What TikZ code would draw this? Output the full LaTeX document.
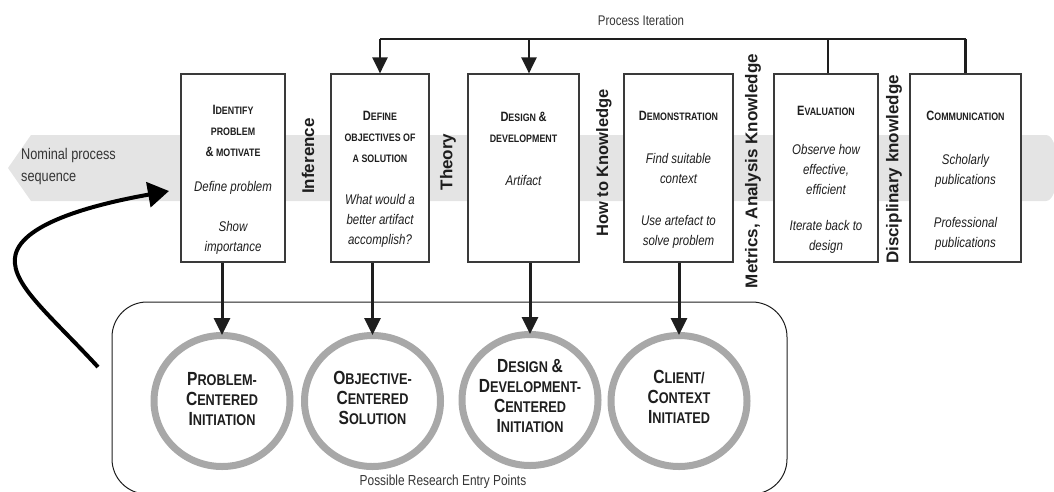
\documentclass[tikz,border=0pt]{standalone}
\usepackage{fontspec}
\setmainfont{Liberation Sans}
\newfontfamily\narrow[FakeStretch=0.82]{Liberation Sans}
\usetikzlibrary{arrows.meta,shapes.geometric}
\definecolor{bandgray}{HTML}{E4E4E4}
\definecolor{ringgray}{HTML}{A8A8A8}
\definecolor{edge}{HTML}{3A3A3A}
\definecolor{ink}{HTML}{1E1E1E}
\newcommand\tsc[2]{{\fontsize{13.5}{21}\selectfont #1}{\fontsize{10.8}{21}\selectfont #2}}
\newcommand\tsm[1]{{\fontsize{10.8}{21}\selectfont #1}}
\newcommand\ringsc[2]{{\fontsize{19}{20}\selectfont #1}{\fontsize{15.5}{20}\selectfont #2}}
\tikzset{
  stagebox/.style={draw=edge, line width=1.2pt, fill=white, minimum height=188pt, inner sep=0pt},
  titletext/.style={font=\narrow\bfseries\fontsize{10.8}{21}\selectfont, align=center, text=ink, inner sep=0pt},
  bodytext/.style={font=\narrow\itshape\fontsize{14}{20}\selectfont, align=center, text=ink, inner sep=0pt},
  sidelabel/.style={font=\bfseries\fontsize{17}{20}\selectfont, rotate=90, text=ink, inner sep=0pt},
  ring/.style={ellipse, draw=ringgray, line width=7pt, fill=white, minimum width=136pt, minimum height=131pt, inner sep=0pt},
  ringtext/.style={font=\narrow\bfseries\fontsize{15.5}{20}\selectfont, align=center, text=ink, inner sep=0pt},
  plaintext/.style={font=\narrow\fontsize{14}{17}\selectfont, text=ink!90, inner sep=0pt},
  iterline/.style={draw=ink, line width=2.2pt},
  iterarrow/.style={iterline, -{Triangle[length=16pt,width=15pt]}},
  entryarrow/.style={draw=ink, line width=3pt, -{Triangle[length=17pt,width=16pt]}},
}
\begin{document}
\begin{tikzpicture}[x=1pt,y=-1pt]
\useasboundingbox (0,0) rectangle (1054,491);
% nominal process band
\fill[bandgray] (8,168) -- (31,135) -- (1046,135) to[out=0,in=0,looseness=0.6] (1046,201) -- (31,201) -- cycle;
\node[plaintext, font=\narrow\fontsize{15.5}{22}\selectfont, align=left, anchor=west] (nom) at (21,166) {Nominal process\\sequence};

% stage boxes
\node[stagebox, minimum width=104pt] (b1) at (233,168) {};
\node[stagebox, minimum width=98pt]  (b2) at (380,168) {};
\node[stagebox, minimum width=111pt] (b3) at (523.5,168) {};
\node[stagebox, minimum width=109pt] (b4) at (678.5,168) {};
\node[stagebox, minimum width=104pt] (b5) at (826,168) {};
\node[stagebox, minimum width=111pt] (b6) at (965.5,168) {};

% box texts
\node[titletext] (b1t) at (233,131) {\tsc{I}{DENTIFY}\\\tsm{PROBLEM}\\\tsc{\&}{ MOTIVATE}};
\node[bodytext] (b1a) at (233,188) {Define problem};
\node[bodytext] (b1b) at (233,238) {Show\\importance};

\node[titletext] (b2t) at (380,137) {\tsc{D}{EFINE}\\\tsm{OBJECTIVES OF}\\\tsm{A SOLUTION}};
\node[bodytext] (b2a) at (380,221) {What would a\\better artifact\\accomplish?};

\node[titletext] (b3t) at (523.5,127) {\tsc{D}{ESIGN} \tsc{\&}{}\\\tsm{DEVELOPMENT}};
\node[bodytext] (b3a) at (523.5,180) {Artifact};

\node[titletext] (b4t) at (678.5,115.5) {\tsc{D}{EMONSTRATION}};
\node[bodytext] (b4a) at (678.5,168) {Find suitable\\context};
\node[bodytext] (b4b) at (678.5,232) {Use artefact to\\solve problem};

\node[titletext] (b5t) at (826,111) {\tsc{E}{VALUATION}};
\node[bodytext] (b5a) at (826,169) {Observe how\\effective,\\efficient};
\node[bodytext] (b5b) at (826,237) {Iterate back to\\design};

\node[titletext] (b6t) at (965.5,116) {\tsc{C}{OMMUNICATION}};
\node[bodytext] (b6a) at (965.5,171) {Scholarly\\publications};
\node[bodytext] (b6b) at (965.5,234) {Professional\\publications};

% knowledge labels
\node[sidelabel] (inf) at (308,156) {Inference};
\node[sidelabel] (the) at (448,162) {Theory};
\node[sidelabel, font=\bfseries\fontsize{16.5}{20}\selectfont] (how) at (604,163) {How to Knowledge};
\node[sidelabel] (met) at (753,171) {Metrics, Analysis Knowledge};
\node[sidelabel] (dis) at (894,169.5) {Disciplinary knowledge};

% process iteration
\coordinate (it2) at (380,39);
\coordinate (it3) at (529,39);
\coordinate (it5) at (828,39);
\coordinate (it6) at (965.5,39);
\draw[iterline] (it2) -- (it6);
\draw[iterarrow] (it2) -- (it2 |- b2.north);
\draw[iterarrow] (it3) -- (it3 |- b3.north);
\draw[iterline] (it5) -- (it5 |- b5.north);
\draw[iterline] (it6) -- (it6 |- b6.north);
\node[plaintext] (pit) at (641,20) {Process Iteration};

% entry points container
\node[draw=ink, line width=1pt, rounded corners=35pt, minimum width=675pt, minimum height=192pt, inner sep=0pt] (entry) at (449.5,398) {};
\node[plaintext, font=\narrow\fontsize{14.5}{17}\selectfont] (entrylbl) at (443,482) {Possible Research Entry Points};

% entry circles
\node[ring] (c1) at (222,401) {};
\node[ring] (c2) at (372.5,401) {};
\node[ring] (c3) at (530,400) {};
\node[ring] (c4) at (679,401) {};
\node[ringtext] (c1t) at (222,399) {\ringsc{P}{ROBLEM-}\\\ringsc{C}{ENTERED}\\\ringsc{I}{NITIATION}};
\node[ringtext] (c2t) at (372.5,398) {\ringsc{O}{BJECTIVE-}\\\ringsc{C}{ENTERED}\\\ringsc{S}{OLUTION}};
\node[ringtext] (c3t) at (530,396) {\ringsc{D}{ESIGN} \ringsc{\&}{}\\\ringsc{D}{EVELOPMENT-}\\\ringsc{C}{ENTERED}\\\ringsc{I}{NITIATION}};
\node[ringtext] (c4t) at (679,397) {\ringsc{C}{LIENT/}\\\ringsc{C}{ONTEXT}\\\ringsc{I}{NITIATED}};

% arrows from stages to entry points
\draw[entryarrow, shorten >=-3pt] (c1.north |- b1.south) -- (c1.north);
\draw[entryarrow, shorten >=-3pt] (c2.north |- b2.south) -- (c2.north);
\draw[entryarrow, shorten >=-3pt] (c3.north |- b3.south) -- (c3.north);
\draw[entryarrow, shorten >=-3pt] (c4.north |- b4.south) -- (c4.north);

% curved feedback arrow
\coordinate (cs) at (98,367);
\coordinate (ce) at (169,191);
\draw[draw=black, line width=4pt, -{Triangle[length=21pt,width=25pt]}]
  (cs) .. controls (50,315) and (12,285) .. (15,258) .. controls (18,225) and (90,205) .. (ce);
\end{tikzpicture}
\end{document}
